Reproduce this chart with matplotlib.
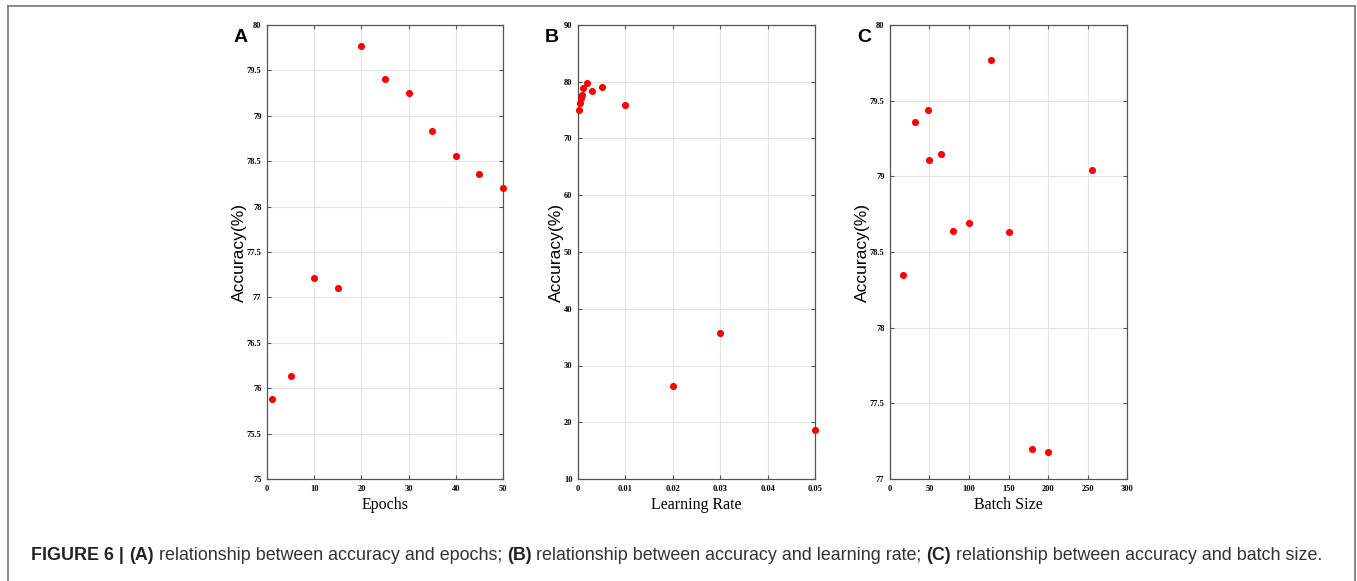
import numpy as np
import matplotlib
matplotlib.use("Agg")
import matplotlib.pyplot as plt
from matplotlib.lines import Line2D

# panel A: epochs
epochs = [1, 5, 10, 15, 20, 25, 30, 35, 40, 45, 50]
acc_epochs = [75.88, 76.13, 77.21, 77.10, 79.77, 79.40, 79.25, 78.83, 78.56, 78.36, 78.20]

# panel B: learning rate
lr = [0.0002, 0.0004, 0.0006, 0.0008, 0.001, 0.002, 0.003, 0.005, 0.01, 0.02, 0.03, 0.05]
acc_lr = [75.07, 76.3, 77.1, 77.67, 78.85, 79.75, 78.32, 79.13, 75.85, 26.3, 35.8, 18.6]

# panel C: batch size
batch = [16, 32, 48, 50, 64, 80, 100, 128, 150, 180, 200, 256]
acc_batch = [78.35, 79.36, 79.44, 79.11, 79.15, 78.64, 78.69, 79.77, 78.63, 77.20, 77.18, 79.04]

W, H = 1357, 581
fig = plt.figure(figsize=(W / 100, H / 100), dpi=100)


def px_axes(l, r, t, b):
    return fig.add_axes([l / W, 1 - b / H, (r - l) / W, (b - t) / H])


def fmt(v):
    return f"{v:g}"


panels = [
    ("A", 267, 503, epochs, acc_epochs, np.arange(0, 51, 10), np.arange(75, 80.01, 0.5), "Epochs"),
    ("B", 578, 815, lr, acc_lr, np.arange(0, 0.0501, 0.01), np.arange(10, 91, 10), "Learning Rate"),
    ("C", 890, 1127, batch, acc_batch, np.arange(0, 301, 50), np.arange(77, 80.01, 0.5), "Batch Size"),
]

for letter, l, r, xs, ys, xt, yt, xlabel in panels:
    ax = px_axes(l, r, 25, 479)
    ax.scatter(xs, ys, s=26, color="#ff0000", zorder=3, linewidths=0, clip_on=False)
    ax.set_xlim(xt[0], xt[-1])
    ax.set_ylim(yt[0], yt[-1])
    ax.set_xticks(xt)
    ax.set_yticks(yt)
    ax.set_xticklabels([fmt(round(v, 4)) for v in xt], fontfamily="Liberation Serif",
                       fontweight="bold", fontsize=6)
    ax.set_yticklabels([fmt(round(v, 4)) for v in yt], fontfamily="Liberation Serif",
                       fontweight="bold", fontsize=6)
    ax.grid(True, color="#e3e3e3", linewidth=0.8)
    ax.set_axisbelow(True)
    ax.tick_params(direction="in", length=3, width=0.8, color="#555555",
                   top=True, right=True, pad=4)
    for sp in ax.spines.values():
        sp.set_color("#555555")
        sp.set_linewidth(0.9)
    ax.set_xlabel(xlabel, fontfamily="Liberation Serif", fontsize=11.5, labelpad=3)
    ax.set_ylabel("Accuracy(%)", fontfamily="Liberation Sans", fontsize=12.5, labelpad=0)
    fig.text((l - 26) / W, 1 - 37 / H, letter, fontfamily="Liberation Sans",
             fontweight="bold", fontsize=14, ha="center", va="center")

# outer frame (open at the bottom)
frame_kw = dict(color="#777777", linewidth=1.2, transform=fig.transFigure)
fig.add_artist(Line2D([7.5 / W, 7.5 / W], [0, 1 - 6 / H], **frame_kw))
fig.add_artist(Line2D([7.5 / W, 1355 / W], [1 - 6 / H, 1 - 6 / H], **frame_kw))
fig.add_artist(Line2D([1355 / W, 1355 / W], [0, 1 - 6 / H], **frame_kw))

# caption with bold parts
pieces = [
    ("FIGURE 6 | ", "bold"),
    ("(A)", "bold"),
    (" relationship between accuracy and epochs; ", "normal"),
    ("(B)", "bold"),
    (" relationship between accuracy and learning rate; ", "normal"),
    ("(C)", "bold"),
    (" relationship between accuracy and batch size.", "normal"),
]
fig.canvas.draw()
renderer = fig.canvas.get_renderer()
x = 31
for txt, wt in pieces:
    t = fig.text(x / W, 1 - 555 / H, txt, fontfamily="Liberation Sans", fontweight=wt,
                 fontsize=12.9, ha="left", va="center",
                 color="#222222" if wt == "bold" else "#333333")
    bb = t.get_window_extent(renderer=renderer)
    x += bb.width

fig.savefig("out.png", dpi=100)
